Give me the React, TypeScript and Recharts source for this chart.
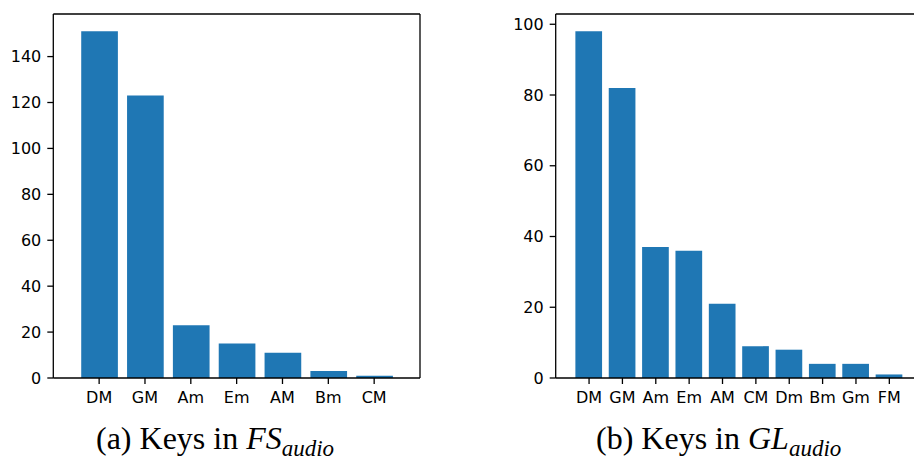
import React from 'react';
import { BarChart, Bar, XAxis, YAxis, ReferenceLine } from 'recharts';

// Key counts per dataset
const fsKeys = ['DM', 'GM', 'Am', 'Em', 'AM', 'Bm', 'CM'];
const fsCounts = [151, 123, 23, 15, 11, 3, 1];
const fsTicks = [0, 20, 40, 60, 80, 100, 120, 140];

const glKeys = ['DM', 'GM', 'Am', 'Em', 'AM', 'CM', 'Dm', 'Bm', 'Gm', 'FM'];
const glCounts = [98, 82, 37, 36, 21, 9, 8, 4, 4, 1];
const glTicks = [0, 20, 40, 60, 80, 100];

const BAR_COLOR = '#1f77b4';
const INK = '#000';
const TICK_FONT = { fill: INK, fontSize: 16, fontFamily: 'DejaVu Sans' };
const LINE = { stroke: INK, strokeWidth: 1.3 };

type PanelProps = {
  keys: string[];
  counts: number[];
  ticks: number[];
  yMax: number;
  plotWidth: number;
  yAxisWidth: number;
  rightMargin: number;
};

function KeyPanel({ keys, counts, ticks, yMax, plotWidth, yAxisWidth, rightMargin }: PanelProps) {
  const data = keys.map((key, i) => ({ idx: i, key, count: counts[i] }));
  const positions = keys.map((_, i) => i);
  const n = keys.length;
  // x limits run from -1 to n: one full slot of space at each end
  const unit = plotWidth / (n + 1);
  return (
    <BarChart
      width={yAxisWidth + plotWidth + rightMargin}
      height={461}
      data={data}
      margin={{ top: 14, right: rightMargin, bottom: 53, left: 0 }}
    >
      <XAxis
        type="number"
        dataKey="idx"
        domain={[-1, n]}
        ticks={positions}
        interval={0}
        allowDataOverflow
        tickFormatter={(v: number) => keys[v] ?? ''}
        height={30}
        tick={TICK_FONT}
        tickLine={LINE}
        axisLine={LINE}
        tickSize={6}
        tickMargin={7.5}
      />
      <YAxis
        type="number"
        width={yAxisWidth}
        domain={[0, yMax]}
        ticks={ticks}
        allowDataOverflow
        tick={TICK_FONT}
        tickLine={LINE}
        axisLine={LINE}
        tickSize={6}
        tickMargin={6}
      />
      <Bar dataKey="count" fill={BAR_COLOR} barSize={unit * 0.8} isAnimationActive={false} />
      {/* top and right frame lines */}
      <ReferenceLine y={yMax} stroke={INK} strokeWidth={1.3} />
      <ReferenceLine x={n} stroke={INK} strokeWidth={1.3} />
    </BarChart>
  );
}

function Caption({ x, letter, name }: { x: number; letter: string; name: string }) {
  return (
    <svg width={914} height={461} style={{ position: 'absolute', left: 0, top: 0, pointerEvents: 'none' }}>
      <text x={x} y={449} fontFamily="Liberation Serif" fontSize={32} fill={INK}>
        {`(${letter}) Keys in `}
        <tspan fontStyle="italic">{name}</tspan>
        <tspan fontStyle="italic" fontSize={23} dy={7}>audio</tspan>
      </text>
    </svg>
  );
}

export default function App() {
  return (
    <div
      style={{
        position: 'absolute',
        left: 0,
        top: 0,
        width: 914,
        height: 461,
        overflow: 'hidden',
        background: '#fff',
      }}
    >
      <div style={{ position: 'absolute', left: 0, top: 0 }}>
        <KeyPanel
          keys={fsKeys}
          counts={fsCounts}
          ticks={fsTicks}
          yMax={158.55}
          plotWidth={366.7}
          yAxisWidth={53.3}
          rightMargin={40}
        />
      </div>
      <div style={{ position: 'absolute', left: 500, top: 0 }}>
        <KeyPanel
          keys={glKeys}
          counts={glCounts}
          ticks={glTicks}
          yMax={102.9}
          plotWidth={367}
          yAxisWidth={55.7}
          rightMargin={10}
        />
      </div>
      <Caption x={96} letter="a" name="FS" />
      <Caption x={596} letter="b" name="GL" />
    </div>
  );
}
